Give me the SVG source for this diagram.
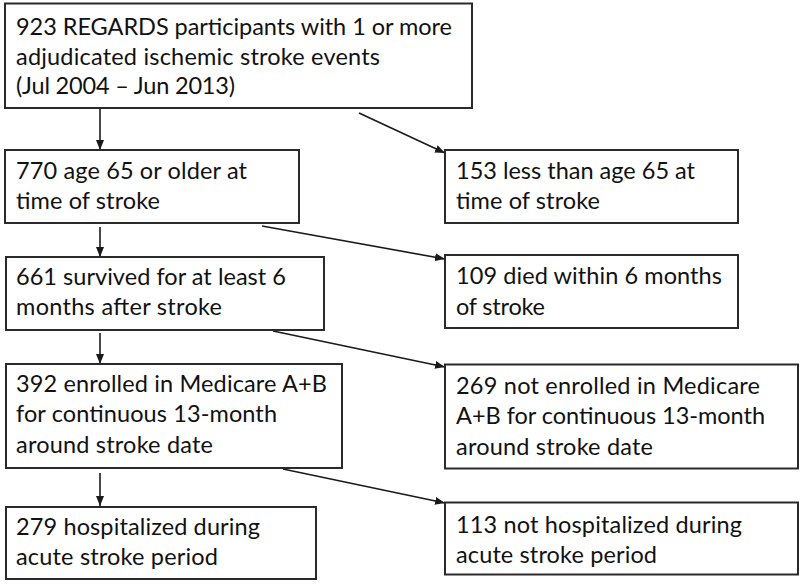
<svg xmlns="http://www.w3.org/2000/svg" width="800" height="586" viewBox="0 0 800 586">
<style>
  .box { fill: #ffffff; stroke: #2a2a2a; stroke-width: 2; }
  .t { font-family: Lato, "Open Sans", "Liberation Sans", sans-serif; font-size: 23.5px; fill: #111111; }
  .c { stroke: #1a1a1a; stroke-width: 1.6; fill: none; marker-end: url(#ah); }
</style>
<defs>
  <marker id="ah" markerUnits="userSpaceOnUse" markerWidth="10" markerHeight="8" refX="10" refY="4" orient="auto">
    <path d="M0,0 L10,4 L0,8 z" fill="#1a1a1a"/>
  </marker>
</defs>
<rect x="0" y="0" width="800" height="586" fill="#ffffff"/>
<g id="connectors">
  <line class="c" x1="100" y1="109" x2="100" y2="150"/>
  <line class="c" x1="100" y1="227" x2="100" y2="257"/>
  <line class="c" x1="100" y1="333" x2="100" y2="364"/>
  <line class="c" x1="100" y1="473" x2="100" y2="506"/>
  <line class="c" x1="359" y1="113" x2="445" y2="153"/>
  <line class="c" x1="262" y1="226" x2="445" y2="259"/>
  <line class="c" x1="273" y1="331" x2="445" y2="367"/>
  <line class="c" x1="283" y1="469" x2="445" y2="503"/>
</g>
<g id="n923">
  <rect class="box" x="5" y="3.5" width="467" height="104.5"/>
  <text class="t" x="16" y="35" textLength="436">923 REGARDS participants with 1 or more</text>
  <text class="t" x="16" y="64.5" textLength="364">adjudicated ischemic stroke events</text>
  <text class="t" x="16" y="94" textLength="219">(Jul 2004 – Jun 2013)</text>
</g>
<g id="n770">
  <rect class="box" x="5" y="150" width="294" height="73"/>
  <text class="t" x="16" y="179" textLength="231">770 age 65 or older at</text>
  <text class="t" x="16" y="209" textLength="144">time of stroke</text>
</g>
<g id="n153">
  <rect class="box" x="445" y="150" width="293" height="73"/>
  <text class="t" x="456" y="179" textLength="239">153 less than age 65 at</text>
  <text class="t" x="456" y="209" textLength="144">time of stroke</text>
</g>
<g id="n661">
  <rect class="box" x="6" y="257" width="318" height="73"/>
  <text class="t" x="16" y="285" textLength="270">661 survived for at least 6</text>
  <text class="t" x="16" y="315" textLength="206">months after stroke</text>
</g>
<g id="n109">
  <rect class="box" x="445" y="255" width="293" height="73"/>
  <text class="t" x="456" y="284" textLength="266">109 died within 6 months</text>
  <text class="t" x="456" y="315" textLength="89">of stroke</text>
</g>
<g id="n392">
  <rect class="box" x="6" y="364" width="336" height="104"/>
  <text class="t" x="16" y="392" textLength="311">392 enrolled in Medicare A+B</text>
  <text class="t" x="16" y="422" textLength="261">for continuous 13-month</text>
  <text class="t" x="16" y="453" textLength="197">around stroke date</text>
</g>
<g id="n269">
  <rect class="box" x="445" y="364.5" width="353" height="104"/>
  <text class="t" x="456" y="394" textLength="304">269 not enrolled in Medicare</text>
  <text class="t" x="456" y="424" textLength="309">A+B for continuous 13-month</text>
  <text class="t" x="456" y="455" textLength="197">around stroke date</text>
</g>
<g id="n279">
  <rect class="box" x="6" y="507" width="310" height="72"/>
  <text class="t" x="16" y="535" textLength="244">279 hospitalized during</text>
  <text class="t" x="16" y="565" textLength="202">acute stroke period</text>
</g>
<g id="n113">
  <rect class="box" x="445" y="502.5" width="353" height="72"/>
  <text class="t" x="456" y="533" textLength="286">113 not hospitalized during</text>
  <text class="t" x="456" y="563" textLength="201">acute stroke period</text>
</g>
</svg>
